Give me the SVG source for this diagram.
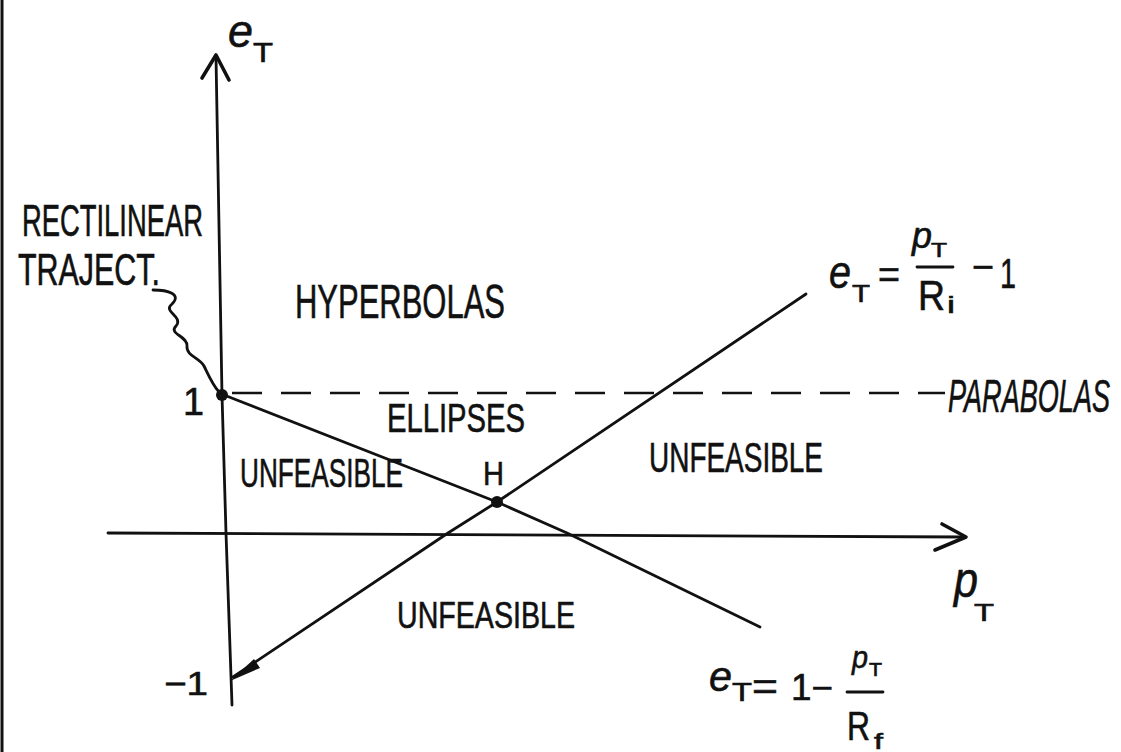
<svg xmlns="http://www.w3.org/2000/svg" width="1121" height="752" viewBox="0 0 1121 752">
<style>
  .ln { fill: none; stroke: #111; stroke-width: 2.8; stroke-linecap: round; stroke-linejoin: round; }
  .ah { fill: none; stroke: #111; stroke-width: 3.6; stroke-linecap: round; stroke-linejoin: round; }
  .dash { fill: none; stroke: #111; stroke-width: 2.6; stroke-dasharray: 30 19; }
  .t { font-family: "Liberation Sans", Arial, sans-serif; fill: #111; stroke: #111; stroke-width: 0.6; }
  .m { font-family: "Liberation Sans", Arial, sans-serif; fill: #111; font-style: italic; stroke: #111; stroke-width: 0.6; }
</style>
<rect x="0" y="0" width="1121" height="752" fill="#fff"/>
<line x1="2" y1="0" x2="2" y2="752" stroke="#111" stroke-width="3"/>

<g id="connectors">
  <!-- vertical axis -->
  <polyline class="ln" points="232,705 226,533 222,395 216,57"/>
  <path class="ah" d="M202,78 L216,55 L229,80"/>
  <!-- horizontal axis -->
  <polyline class="ln" points="108,533 965,537"/>
  <path class="ah" d="M942,524 L966,537 L935,550"/>
  <!-- parabolas dashed line -->
  <line class="dash" x1="232" y1="393" x2="945" y2="393"/>
  <!-- descending line e = 1 - p/Rf -->
  <polyline class="ln" points="224,395 497,502 567,533 760,627"/>
  <!-- ascending line e = p/Ri - 1 -->
  <polyline class="ln" points="233,677 448,533 497,502 806,294"/>
  <polygon points="230,681 254,659 260,668" fill="#111"/>
  <!-- squiggle pointer -->
  <path class="ln" d="M153,290 C168,290 182,294 172,304 C162,312 184,316 176,326 C168,334 188,336 187,346 C186,356 200,358 204,366 C208,374 212,384 219,392"/>
  <!-- points -->
  <circle cx="222" cy="395" r="6" fill="#111"/>
  <circle cx="497" cy="502" r="6" fill="#111"/>
</g>

<g id="axis-e-label">
  <text class="m" x="228" y="47" font-size="46" textLength="25" lengthAdjust="spacingAndGlyphs">e</text>
  <text class="t" x="253" y="62" font-size="28" textLength="20" lengthAdjust="spacingAndGlyphs">T</text>
</g>
<g id="axis-p-label">
  <text class="m" x="954" y="597" font-size="50" textLength="24" lengthAdjust="spacingAndGlyphs">p</text>
  <text class="t" x="974" y="621" font-size="24" textLength="20" lengthAdjust="spacingAndGlyphs">T</text>
</g>
<g id="tick-1">
  <text class="t" x="183" y="415" font-size="38" textLength="21" lengthAdjust="spacingAndGlyphs">1</text>
</g>
<g id="tick-minus1">
  <text class="t" x="164" y="695" font-size="33" textLength="44" lengthAdjust="spacingAndGlyphs">−1</text>
</g>
<g id="rectilinear">
  <text class="t" x="22" y="236" font-size="44" textLength="181" lengthAdjust="spacingAndGlyphs">RECTILINEAR</text>
  <text class="t" x="18" y="285" font-size="44" textLength="142" lengthAdjust="spacingAndGlyphs">TRAJECT.</text>
</g>
<g id="hyperbolas">
  <text class="t" x="295" y="318" font-size="48" textLength="210" lengthAdjust="spacingAndGlyphs">HYPERBOLAS</text>
</g>
<g id="ellipses">
  <text class="t" x="387" y="432" font-size="40" textLength="138" lengthAdjust="spacingAndGlyphs">ELLIPSES</text>
</g>
<g id="parabolas">
  <text class="m" x="1110" y="412" font-size="46" text-anchor="end" textLength="162" lengthAdjust="spacingAndGlyphs">PARABOLAS</text>
</g>
<g id="unfeasible-left">
  <text class="t" x="240" y="487" font-size="40" textLength="163" lengthAdjust="spacingAndGlyphs">UNFEASIBLE</text>
</g>
<g id="unfeasible-right">
  <text class="t" x="649" y="472" font-size="42" textLength="174" lengthAdjust="spacingAndGlyphs">UNFEASIBLE</text>
</g>
<g id="unfeasible-bottom">
  <text class="t" x="397" y="628" font-size="37" textLength="178" lengthAdjust="spacingAndGlyphs">UNFEASIBLE</text>
</g>
<g id="point-H">
  <text class="t" x="483" y="485" font-size="34" textLength="21" lengthAdjust="spacingAndGlyphs">H</text>
</g>
<g id="eq-top">
  <text class="m" x="829" y="288" font-size="46" textLength="22" lengthAdjust="spacingAndGlyphs">e</text>
  <text class="t" x="852" y="302" font-size="24" textLength="18" lengthAdjust="spacingAndGlyphs">T</text>
  <text class="t" x="878" y="288" font-size="38" textLength="22" lengthAdjust="spacingAndGlyphs">=</text>
  <text class="m" x="912" y="248" font-size="36" textLength="20" lengthAdjust="spacingAndGlyphs">p</text>
  <text class="t" x="931" y="257" font-size="20" textLength="16" lengthAdjust="spacingAndGlyphs">T</text>
  <line class="ln" x1="917" y1="267" x2="953" y2="267"/>
  <text class="t" x="918" y="310" font-size="42" textLength="27" lengthAdjust="spacingAndGlyphs">R</text>
  <text class="t" x="947" y="313" font-size="24" textLength="8" lengthAdjust="spacingAndGlyphs">i</text>
  <text class="t" x="972" y="280" font-size="38" textLength="22" lengthAdjust="spacingAndGlyphs">−</text>
  <text class="t" x="1000" y="288" font-size="42" textLength="16" lengthAdjust="spacingAndGlyphs">1</text>
</g>
<g id="eq-bottom">
  <text class="m" x="709" y="691" font-size="42" textLength="23" lengthAdjust="spacingAndGlyphs">e</text>
  <text class="t" x="732" y="701" font-size="26" textLength="20" lengthAdjust="spacingAndGlyphs">T</text>
  <text class="t" x="752" y="700" font-size="38" textLength="26" lengthAdjust="spacingAndGlyphs">=</text>
  <text class="t" x="791" y="700" font-size="36" textLength="42" lengthAdjust="spacingAndGlyphs">1−</text>
  <text class="m" x="852" y="668" font-size="32" textLength="16" lengthAdjust="spacingAndGlyphs">p</text>
  <text class="t" x="869" y="676" font-size="18" textLength="13" lengthAdjust="spacingAndGlyphs">T</text>
  <line class="ln" x1="847" y1="692" x2="883" y2="692"/>
  <text class="t" x="847" y="740" font-size="40" textLength="23" lengthAdjust="spacingAndGlyphs">R</text>
  <text class="t" x="874" y="749" font-size="22" textLength="9" lengthAdjust="spacingAndGlyphs">f</text>
</g>
</svg>
